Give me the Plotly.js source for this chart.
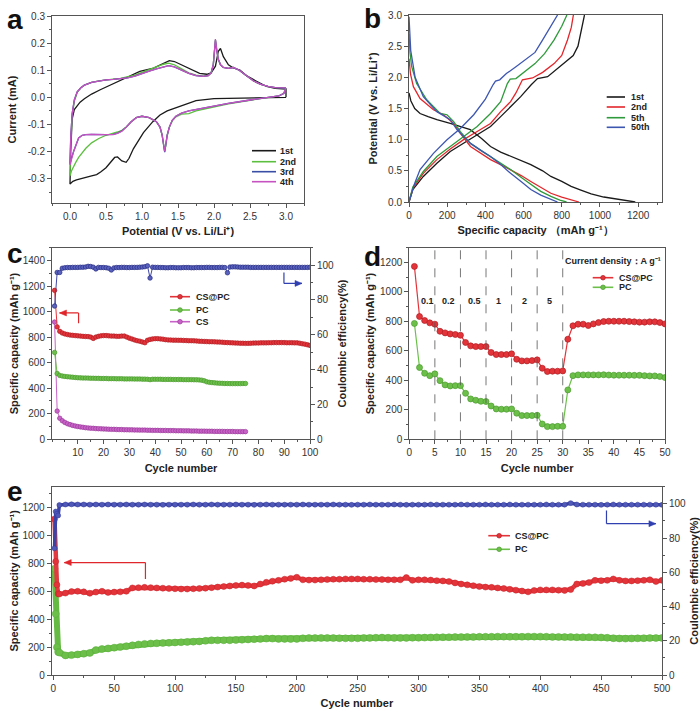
<!DOCTYPE html>
<html><head><meta charset="utf-8">
<script src="https://cdn.plot.ly/plotly-3.0.1.min.js"></script>
<style>body{margin:0;background:#fff}#chart{width:700px;height:712px}</style>
</head><body><div id="chart"></div>
<script>
// ================= DATA =================
// Panel a: cyclic voltammetry (V vs. Li/Li+, current mA)
const aV1 = [3.0,2.5,2.0,1.75,1.5,1.35,1.25,1.15,1.02,0.95,0.88,0.82,0.78,0.72,0.66,0.62,0.56,0.5,0.43,0.37,0.3,0.23,0.15,0.09,0.04,0.01,0.0,
             0.01,0.03,0.06,0.1,0.14,0.2,0.3,0.42,0.6,0.79,0.97,1.16,1.3,1.38,1.45,1.55,1.65,1.8,1.9,1.96,2.02,2.06,2.09,2.13,2.2,2.27,2.36,2.45,2.55,2.65,2.73,2.85,2.95,3.0,3.0];
const aI1 = [0.0,-0.002,-0.005,-0.012,-0.035,-0.05,-0.065,-0.09,-0.13,-0.16,-0.19,-0.225,-0.24,-0.235,-0.22,-0.222,-0.24,-0.26,-0.275,-0.285,-0.29,-0.295,-0.298,-0.305,-0.31,-0.32,-0.32,
             -0.2,-0.08,-0.045,-0.03,-0.018,-0.005,0.012,0.028,0.05,0.073,0.096,0.108,0.125,0.135,0.132,0.12,0.105,0.088,0.085,0.09,0.115,0.17,0.18,0.15,0.12,0.108,0.1,0.08,0.065,0.05,0.04,0.033,0.03,0.03,0.0];
const aVcat = [3.0,2.97,2.9,2.75,2.5,2.2,1.9,1.75,1.65,1.55,1.47,1.42,1.38,1.35,1.33,1.315,1.3,1.28,1.25,1.2,1.1,1.0,0.92,0.85,0.78,0.72,0.66,0.6,0.5,0.4,0.3,0.22,0.17,0.12,0.08,0.05,0.02,0.0];
const aVano = [0.0,0.01,0.03,0.06,0.1,0.15,0.2,0.3,0.4,0.5,0.6,0.7,0.8,0.9,1.0,1.1,1.2,1.3,1.37,1.45,1.55,1.65,1.75,1.85,1.92,1.96,1.99,2.01,2.02,2.04,2.06,2.09,2.13,2.2,2.27,2.35,2.45,2.55,2.65,2.75,2.85,2.95,3.0];
const aI2cat = [0.035,0.015,0.005,0.0,-0.011,-0.024,-0.04,-0.05,-0.06,-0.062,-0.072,-0.087,-0.11,-0.14,-0.18,-0.2,-0.175,-0.14,-0.11,-0.09,-0.075,-0.07,-0.075,-0.09,-0.11,-0.122,-0.128,-0.132,-0.14,-0.152,-0.168,-0.188,-0.203,-0.222,-0.24,-0.255,-0.272,-0.29];
const aI2ano = [-0.29,-0.17,-0.07,-0.015,0.018,0.034,0.045,0.055,0.061,0.065,0.067,0.07,0.075,0.082,0.092,0.102,0.112,0.122,0.126,0.12,0.105,0.09,0.082,0.078,0.08,0.09,0.12,0.2,0.212,0.17,0.14,0.12,0.11,0.107,0.11,0.1,0.08,0.06,0.048,0.04,0.036,0.034,0.035];
const aI3cat = [0.034,0.014,0.005,0.0,-0.01,-0.022,-0.037,-0.045,-0.05,-0.058,-0.07,-0.085,-0.11,-0.14,-0.18,-0.202,-0.175,-0.14,-0.11,-0.09,-0.075,-0.07,-0.075,-0.09,-0.11,-0.124,-0.132,-0.137,-0.138,-0.137,-0.137,-0.138,-0.14,-0.15,-0.175,-0.2,-0.225,-0.245];
const aI3ano = [-0.245,-0.15,-0.06,-0.01,0.02,0.035,0.045,0.055,0.06,0.064,0.066,0.068,0.072,0.078,0.088,0.097,0.105,0.113,0.117,0.112,0.1,0.088,0.08,0.077,0.08,0.09,0.12,0.2,0.21,0.17,0.14,0.12,0.11,0.107,0.11,0.1,0.08,0.06,0.048,0.04,0.036,0.034,0.034];
const aI4cat = [0.035,0.015,0.005,0.0,-0.01,-0.022,-0.037,-0.045,-0.05,-0.058,-0.07,-0.085,-0.11,-0.14,-0.18,-0.2,-0.175,-0.14,-0.11,-0.09,-0.075,-0.07,-0.075,-0.09,-0.11,-0.125,-0.133,-0.138,-0.138,-0.137,-0.137,-0.138,-0.14,-0.15,-0.175,-0.2,-0.23,-0.25];
const aI4ano = [-0.25,-0.15,-0.06,-0.01,0.02,0.035,0.045,0.055,0.06,0.064,0.066,0.068,0.072,0.078,0.088,0.097,0.105,0.113,0.117,0.112,0.1,0.088,0.08,0.077,0.08,0.09,0.12,0.2,0.215,0.17,0.14,0.12,0.11,0.107,0.11,0.1,0.08,0.06,0.048,0.04,0.036,0.034,0.035];
const aNames = ['1st','2nd','3rd','4th'];

// Panel b: galvanostatic discharge / charge profiles (capacity mAh/g, potential V)
const b1DisCap = [0,10,30,58,100,146,216,270,321,380,427,480,532,590,638,700,743,800,849,900,954,1020,1094,1150,1185];
const b1DisV   = [1.75,1.62,1.5,1.42,1.37,1.32,1.26,1.21,1.16,1.02,0.89,0.8,0.73,0.66,0.6,0.5,0.41,0.33,0.25,0.19,0.13,0.08,0.04,0.015,0.0];
const b1ChCap  = [0,20,75,146,216,286,357,427,480,532,585,640,673,726,770,820,860,885,900,912,919];
const b1ChV    = [0,0.2,0.41,0.62,0.81,0.94,1.08,1.21,1.37,1.53,1.69,1.88,1.98,2.01,2.12,2.24,2.35,2.5,2.7,2.88,3.0];
const b2DisCap = [0,8,23,58,128,181,234,269,322,380,427,480,532,590,638,690,743,800,849,890];
const b2DisV   = [2.3,2.05,1.85,1.66,1.48,1.4,1.26,1.1,0.89,0.77,0.68,0.6,0.52,0.42,0.33,0.23,0.14,0.08,0.04,0.0];
const b2ChCap  = [0,20,75,146,216,286,357,427,480,532,560,594,647,700,760,800,830,850,861];
const b2ChV    = [0,0.22,0.46,0.68,0.85,1.0,1.13,1.26,1.45,1.61,1.75,1.96,1.99,2.08,2.22,2.35,2.6,2.8,3.0];
const b5DisCap = [0,5,14,40,93,163,199,234,269,322,380,427,480,532,590,638,690,743,790,825];
const b5DisV   = [2.7,2.4,2.17,1.9,1.64,1.42,1.4,1.29,1.13,0.94,0.82,0.73,0.63,0.52,0.39,0.28,0.17,0.09,0.03,0.0];
const b5ChCap  = [0,20,75,146,216,286,357,427,480,515,530,560,600,660,710,760,800,827];
const b5ChV    = [0,0.24,0.49,0.73,0.89,1.05,1.21,1.42,1.61,1.9,1.97,1.98,2.08,2.22,2.38,2.6,2.82,3.0];
const b50DisCap = [0,4,9,32,75,146,216,251,322,380,427,480,532,590,638,690,743,778];
const b50DisV   = [2.97,2.7,2.43,2.0,1.69,1.45,1.32,1.16,0.94,0.82,0.73,0.6,0.46,0.32,0.2,0.11,0.04,0.0];
const b50ChCap  = [0,30,58,128,199,269,339,400,440,453,475,510,560,620,660,700,740,778];
const b50ChV    = [0,0.3,0.52,0.78,1.0,1.18,1.4,1.65,1.88,1.94,1.96,2.06,2.17,2.3,2.4,2.6,2.8,3.0];
const bNames = ['1st','2nd','5th','50th'];

// Panel c: cycling at 0.1 A/g (cycle, capacity mAh/g; Coulombic efficiency %)
const cRed = [1166,880,845,832,825,820,816,814,812,810,808,806,805,804,800,790,800,806,810,812,
  812,810,808,808,806,806,808,808,800,792,785,778,772,768,762,756,775,782,786,788,
  788,786,784,780,778,777,776,776,775,775,774,773,772,772,771,770,768,767,766,765,
  764,764,763,762,761,760,758,757,756,755,754,753,752,752,751,751,752,753,754,754,
  755,755,755,756,756,757,757,757,757,757,756,756,756,755,755,752,748,745,740,735];
const cGreen = [680,515,500,495,492,490,488,486,484,482,481,480,480,479,478,478,477,477,476,476,
  476,475,475,475,474,474,474,473,473,473,473,472,472,472,471,471,470,467,470,470,
  470,470,469,469,469,469,468,468,468,468,467,467,467,467,466,466,465,463,458,450,
  446,444,442,440,439,438,437,437,436,436,436,436,436,437,437];
const cMag = [918,221,165,145,132,122,115,109,104,100,97,94,91,89,87,86,84,83,82,81,
  80,79,78,78,77,76,76,75,75,74,74,73,73,72,72,72,71,71,70,70,
  70,69,69,69,68,68,68,67,67,67,66,66,66,65,65,65,64,64,64,63,
  63,63,62,62,62,62,61,61,61,61,60,60,60,60,60];
const cCE = [76.5,95.8,95.8,98.2,98.5,98.6,98.6,98.7,98.7,98.7,98.8,98.8,98.9,99.3,99.2,98.8,97.8,98.7,98.6,98.6,
  98.5,98.2,97.2,98.4,98.6,98.6,98.7,98.7,98.6,98.6,98.7,98.7,98.7,98.8,98.9,99.1,99.6,92.6,98.8,98.7,
  98.7,98.6,98.6,98.5,98.5,98.6,98.6,98.5,98.5,98.5,98.6,98.6,98.6,98.5,98.5,98.6,98.6,98.6,98.6,98.7,
  98.7,98.6,98.6,98.6,98.7,98.7,98.6,95.6,98.9,99.0,99.0,98.9,98.8,98.8,98.8,98.8,98.7,98.7,98.7,98.7,
  98.7,98.7,98.7,98.7,98.7,98.7,98.7,98.7,98.7,98.7,98.7,98.7,98.7,98.7,98.7,98.7,98.7,98.7,98.7,98.8];
const cNames = ['CS@PC','PC','CS'];

// Panel d: rate capability (cycles 1-50)
const dRed = [1173,833,806,790,781,733,722,715,711,706,657,634,629,629,629,589,575,575,575,580,
  543,532,532,534,539,482,460,462,462,464,679,770,781,781,772,783,792,799,801,801,
  801,801,799,797,795,795,797,797,792,783];
const dGreen = [786,487,448,432,444,398,369,362,364,364,312,274,265,258,256,226,206,204,204,206,
  177,161,161,161,163,104,86,86,88,88,335,432,437,437,437,437,437,438,436,435,
  435,435,435,434,434,432,430,430,426,419];
const dRates = ['0.1','0.2','0.5','1','2','5'];
const dRateX = [3.6,7.7,12.7,17.5,22.5,27.5];
const dBounds = [5,10,15,20,25,30];

// Panel e: long cycling, 500 cycles (values read at cycles 1-5, then every 5th cycle)
const eFirst = [1,2,3,4,5];
const eRed = [1114,811,644,580,578,
  585,596,598,594,584,592,598,590,592,594,598,622,624,626,624,622,620,618,616,
  614,614,616,618,620,624,628,632,636,640,642,640,636,650,662,670,676,684,690,698,
  680,678,678,680,682,684,684,686,686,686,684,684,682,682,680,680,680,696,676,680,
  680,678,674,672,668,658,650,644,638,632,628,626,622,618,612,606,600,594,604,608,
  608,608,606,604,610,650,654,660,676,674,676,686,676,672,672,674,676,680,668,676];
const eGreen = [759,437,198,165,160,
  140,142,147,152,158,178,186,190,195,200,206,212,218,222,225,227,229,230,232,
  234,236,238,240,244,248,248,248,248,250,252,254,256,258,260,260,258,258,257,258,
  262,264,264,265,265,264,263,262,262,262,264,265,266,267,266,265,265,265,266,266,
  267,268,269,270,270,271,271,272,272,273,273,273,274,274,273,273,273,274,274,274,
  273,272,272,271,271,270,270,270,269,268,266,263,261,260,261,262,263,264,264,265];
const eCE = [74,95.5,94.2,93.2,99.3,
  99.6,99.7,99.6,99.6,99.5,99.6,99.5,99.6,99.5,99.5,99.6,99.5,99.5,99.6,99.5,99.5,99.4,99.5,99.5,
  99.5,99.5,99.6,99.5,99.5,99.6,99.5,99.5,99.5,99.6,99.5,99.5,99.4,99.5,99.6,99.5,99.5,99.5,99.5,99.5,
  99.6,99.5,99.5,99.5,99.5,99.6,99.5,99.5,99.4,99.5,99.5,99.6,99.5,99.5,99.5,99.6,99.5,99.4,99.5,99.5,
  99.5,99.6,99.5,99.5,99.5,99.5,99.6,99.5,99.5,99.5,99.6,99.5,99.5,99.5,99.6,99.5,99.5,99.5,99.5,99.5,
  99.6,99.5,99.5,99.5,100.4,99.6,99.5,99.5,99.5,99.4,99.5,99.6,99.5,99.5,99.5,99.5,99.5,99.5,99.5,99.4];
const eNames = ['CS@PC','PC'];

// ================= BUILD =================
const F = 'Liberation Sans, Arial, sans-serif';
const cycles = n => Array.from({length:n}, (_, i) => i + 1);
const eCyc = eFirst.concat(Array.from({length:99}, (_, i) => 10 + 5 * i));

const ca = ['#1a1a1a','#5cbf3f','#3b4ea6','#c552c0'];
const cb = ['#1a1a1a','#e3262b','#2f9a3c','#3d56b0'];
const RED = '#e3343a', REDL = '#b01c22', GRN = '#6cc04a', GRNL = '#4a9a2e', MAG = '#c862c8', MAGL = '#9a3a9a', BLU = '#4048a8', BLUL = '#262c80';

const traces = [];
// a
traces.push({x:aV1, y:aI1, xaxis:'x', yaxis:'y', mode:'lines', name:aNames[0], line:{color:ca[0], width:1.3}, showlegend:false});
[[aI2cat,aI2ano],[aI3cat,aI3ano],[aI4cat,aI4ano]].forEach((p,i) => {
  traces.push({x:aVcat.concat(aVano), y:p[0].concat(p[1]), xaxis:'x', yaxis:'y', mode:'lines', name:aNames[i+1], line:{color:ca[i+1], width:1.3}, showlegend:false});
});
// b
[[b1DisCap,b1DisV,b1ChCap,b1ChV],[b2DisCap,b2DisV,b2ChCap,b2ChV],[b5DisCap,b5DisV,b5ChCap,b5ChV],[b50DisCap,b50DisV,b50ChCap,b50ChV]].forEach((p,i) => {
  traces.push({x:p[0].concat([null]).concat(p[2]), y:p[1].concat([null]).concat(p[3]), xaxis:'x2', yaxis:'y2', mode:'lines', name:bNames[i], line:{color:cb[i], width:1.3}, showlegend:false, connectgaps:false});
});
// c
const mk = (c, l, s, w) => ({symbol:'circle', size:s, color:c, line:{color:l, width:(w === undefined ? 0.7 : w)}});
traces.push({x:cycles(cMag.length), y:cMag, xaxis:'x3', yaxis:'y3', mode:'lines+markers', name:cNames[2], line:{color:MAG, width:1}, marker:mk(MAG,MAGL,4.5), showlegend:false});
traces.push({x:cycles(cGreen.length), y:cGreen, xaxis:'x3', yaxis:'y3', mode:'lines+markers', name:cNames[1], line:{color:GRN, width:1}, marker:mk(GRN,GRNL,4.5), showlegend:false});
traces.push({x:cycles(cRed.length), y:cRed, xaxis:'x3', yaxis:'y3', mode:'lines+markers', name:cNames[0], line:{color:RED, width:1}, marker:mk(RED,REDL,4.5), showlegend:false});
traces.push({x:cycles(cCE.length), y:cCE, xaxis:'x3', yaxis:'y4', mode:'lines+markers', name:'CE', line:{color:BLU, width:1}, marker:mk('#5a62c0',BLUL,4.5), showlegend:false});
// d
traces.push({x:cycles(dGreen.length), y:dGreen, xaxis:'x4', yaxis:'y5', mode:'lines+markers', name:'PC', line:{color:GRN, width:1.2}, marker:mk(GRN,GRNL,6), showlegend:false});
traces.push({x:cycles(dRed.length), y:dRed, xaxis:'x4', yaxis:'y5', mode:'lines+markers', name:'CS@PC', line:{color:RED, width:1.2}, marker:mk(RED,REDL,6), showlegend:false});
// e (dense markers drawn as a thick band)
traces.push({x:eCyc, y:eGreen, xaxis:'x5', yaxis:'y6', mode:'lines+markers', name:eNames[1], line:{color:'#66bb44', width:6}, marker:mk(GRN,'#58ad3a',7,0.5), showlegend:false});
traces.push({x:eCyc, y:eRed, xaxis:'x5', yaxis:'y6', mode:'lines+markers', name:eNames[0], line:{color:'#e23a40', width:4.5}, marker:mk(RED,'#c8252b',6,0.5), showlegend:false});
traces.push({x:eCyc, y:eCE, xaxis:'x5', yaxis:'y7', mode:'lines+markers', name:'CE', line:{color:'#3b43a8', width:3.5}, marker:mk('#5058b8','#303898',5,0.5), showlegend:false});

// ---- layout helpers ----
const W = 700, H = 712;
const px = v => v / W, py = v => 1 - v / H;
const tickF = {family:F, size:10, color:'#333'};
const titleF = {family:F, size:11, color:'#222', weight:'bold'};
function ax(o) {
  const base = {showline:true, linecolor:'#555', linewidth:1, mirror:true, ticks:'outside', ticklen:4, tickwidth:1, tickcolor:'#555',
    showgrid:false, zeroline:false, tickfont:tickF, automargin:false};
  const r = Object.assign(base, o);
  if (o.mdt) { r.minor = {ticks:'outside', ticklen:2, tickcolor:'#555', dtick:o.mdt, showgrid:false}; delete r.mdt; }
  return r;
}
const seq = (a, b, s) => { const r = []; for (let v = a; v <= b + 1e-9; v += s) r.push(+v.toFixed(4)); return r; };
const fmt = (arr, d) => arr.map(v => (v < 0 ? '-' : '') + Math.abs(v).toFixed(d));

const dY = [py(439.3), py(247.7)];
const layout = {
  width:W, height:H, margin:{l:0, r:0, t:0, b:0}, paper_bgcolor:'#fff', plot_bgcolor:'#fff', showlegend:false,
  font:{family:F},
  // a
  xaxis: ax({domain:[px(52),px(304)], anchor:'y', range:[-0.25,3.25], tickvals:seq(0,3,0.5), ticktext:fmt(seq(0,3,0.5),1), mdt:0.25, tick0:0,
    title:{text:'Potential (V vs. Li/Li⁺)', font:titleF, standoff:6}}),
  yaxis: ax({domain:[py(203),py(16)], anchor:'x', range:[-0.39,0.3], tickvals:seq(-0.3,0.3,0.1), ticktext:fmt(seq(-0.3,0.3,0.1),1), mdt:0.05, tick0:0,
    title:{text:'Current (mA)', font:titleF, standoff:8}}),
  // b
  xaxis2: ax({domain:[px(409),px(662)], anchor:'y2', range:[0,1325], tickvals:seq(0,1200,200), mdt:100, tick0:0,
    title:{text:'Specific capacity （mAh g⁻¹）', font:titleF, standoff:6}}),
  yaxis2: ax({domain:[py(202),py(15)], anchor:'x2', range:[0,3], tickvals:seq(0,3,0.5), ticktext:fmt(seq(0,3,0.5),1), mdt:0.25, tick0:0,
    title:{text:'Potential (V vs. Li/Li⁺)', font:titleF, standoff:8}}),
  // c
  xaxis3: ax({domain:[px(52),px(310)], anchor:'y3', range:[0,100], tickvals:seq(10,100,10), mdt:5, tick0:0,
    title:{text:'Cycle number', font:titleF, standoff:7}}),
  yaxis3: ax({domain:dY, anchor:'x3', range:[0,1500], tickvals:seq(0,1400,200), mdt:100, tick0:0, mirror:false,
    title:{text:'Specific capacity (mAh g⁻¹)', font:titleF, standoff:1}}),
  yaxis4: ax({overlaying:'y3', side:'right', anchor:'x3', range:[0,110], tickvals:seq(0,100,20), mdt:10, tick0:0, mirror:false,
    title:{text:'Coulombic efficiency(%)', font:titleF, standoff:5}}),
  // d
  xaxis4: ax({domain:[px(409.3),px(665)], anchor:'y5', range:[0,50], tickvals:seq(0,50,5), mdt:2.5, tick0:0,
    title:{text:'Cycle number', font:titleF, standoff:7}}),
  yaxis5: ax({domain:dY, anchor:'x4', range:[0,1300], tickvals:seq(0,1200,200), mdt:100, tick0:0,
    title:{text:'Specific capacity (mAh g⁻¹)', font:titleF, standoff:3}}),
  // e
  xaxis5: ax({domain:[px(51.7),px(662)], anchor:'y6', range:[-1.3,500], tickvals:seq(0,500,50), mdt:25, tick0:0,
    title:{text:'Cycle number', font:titleF, standoff:6}}),
  yaxis6: ax({domain:[py(675),py(486.7)], anchor:'x5', range:[0,1345], tickvals:seq(0,1200,200), mdt:100, tick0:0, mirror:false,
    title:{text:'Specific capacity (mAh g⁻¹)', font:titleF, standoff:1}}),
  yaxis7: ax({overlaying:'y6', side:'right', anchor:'x5', range:[0,110], tickvals:seq(0,100,20), mdt:10, tick0:0, mirror:false,
    title:{text:'Coulombic efficiency(%)', font:titleF, standoff:6}}),
  shapes: [], annotations: []
};

// panel letters
[['a',15,19],['b',373,18],['c',15,254],['d',373,256],['e',15,491]].forEach(l => {
  layout.annotations.push({text:l[0], xref:'paper', yref:'paper', x:px(l[1]), y:py(l[2]), xanchor:'center', yanchor:'middle', showarrow:false,
    font:{family:F, size:28, color:'#111', weight:'bold'}});
});

// manual legends
const legF = {family:F, size:9, color:'#222', weight:'bold'};
function legItem(x0, x1, y, color, text, tx, marker, mcol) {
  layout.shapes.push({type:'line', xref:'paper', yref:'paper', x0:px(x0), x1:px(x1), y0:py(y), y1:py(y), line:{color:color, width:1.6}});
  if (marker) {
    const cx = (x0 + x1) / 2, r = 2.3;
    layout.shapes.push({type:'circle', xref:'paper', yref:'paper', x0:px(cx-r), x1:px(cx+r), y0:py(y+r), y1:py(y-r), fillcolor:color, line:{color:mcol, width:0.7}});
  }
  layout.annotations.push({text:text, xref:'paper', yref:'paper', x:px(tx), y:py(y), xanchor:'left', yanchor:'middle', showarrow:false, font:legF});
}
[150.7,161.7,171.7,181.7].forEach((y,i) => legItem(252, 276, y, ca[i], aNames[i], 278, false));
[97,107,117.7,127.3].forEach((y,i) => legItem(606.7, 625, y, cb[i], bNames[i], 628.5, false));
legItem(170, 190, 296.7, RED, cNames[0], 194, true, REDL);
legItem(170, 190, 310, GRN, cNames[1], 194, true, GRNL);
legItem(170, 190, 321.7, MAG, cNames[2], 194, true, MAGL);
legItem(592.7, 613.3, 277.7, RED, 'CS@PC', 616.5, true, REDL);
legItem(592.7, 613.3, 287.3, GRN, 'PC', 616.5, true, GRNL);
legItem(488.3, 510, 535.7, RED, eNames[0], 512.5, true, REDL);
legItem(488.3, 510, 549.3, GRN, eNames[1], 512.5, true, GRNL);

// bent arrows (c, e): vertical stem, horizontal shaft, pixel-sized arrowhead
function arrow(xr, yr, vx, vy0, vy1, hx, col) {
  layout.shapes.push({type:'line', xref:xr, yref:yr, x0:vx, x1:vx, y0:vy0, y1:vy1, line:{color:col, width:1.2}});
  layout.shapes.push({type:'line', xref:xr, yref:yr, x0:vx, x1:hx, y0:vy1, y1:vy1, line:{color:col, width:1.2}});
  const dir = hx < vx ? 1 : -1;
  layout.shapes.push({type:'path', xref:xr, yref:yr, xsizemode:'pixel', ysizemode:'pixel', xanchor:hx, yanchor:vy1,
    path:`M0,0 L${7*dir},3 L${7*dir},-3 Z`, fillcolor:col, line:{color:col, width:0.5}});
}
arrow('x3','y3', 10.3, 909, 989, 2.9, '#e0262b');
arrow('x3','y4', 89.9, 95.8, 89.5, 96.9, '#3040b0');
arrow('x5','y6', 75.7, 685, 803, 9, '#e0262b');
arrow('x5','y7', 454.4, 96.1, 88.4, 495, '#3040b0');

// panel d: rate boundaries and labels
dBounds.forEach(b => layout.shapes.push({type:'line', xref:'x4', yref:'y5', x0:b, x1:b, y0:0, y1:1300, line:{color:'#555', width:0.8, dash:'dash'}}));
dRates.forEach((t,i) => layout.annotations.push({text:t, xref:'x4', yref:'y5', x:dRateX[i], y:940, showarrow:false, font:{family:F, size:9, color:'#222', weight:'bold'}}));
layout.annotations.push({text:'Current density：A g⁻¹', xref:'x4', yref:'y5', x:39.9, y:1207, showarrow:false, font:{family:F, size:9, color:'#222', weight:'bold'}});

Plotly.newPlot('chart', traces, layout, {displayModeBar:false, staticPlot:true});
</script></body></html>
